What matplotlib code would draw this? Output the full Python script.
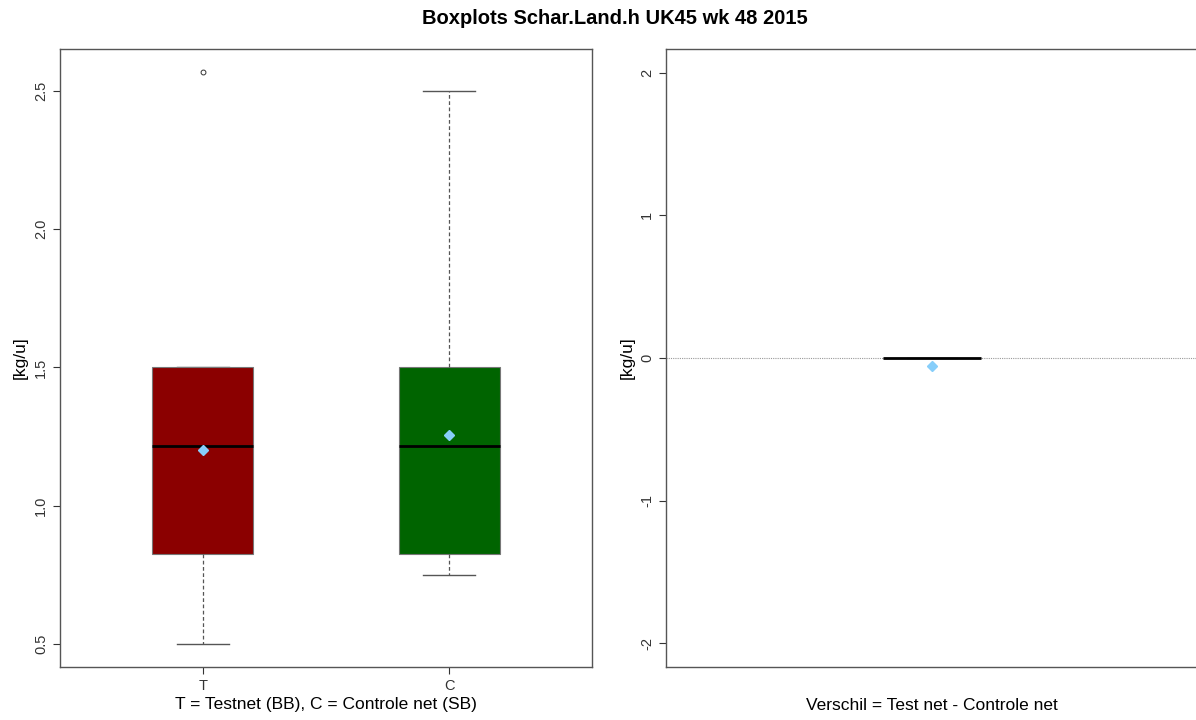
import matplotlib
matplotlib.use("Agg")
import matplotlib.pyplot as plt

plt.rcParams["font.family"] = ["Liberation Sans", "DejaVu Sans"]

# Five-number summaries per net, [kg/u]
groups = ["T", "C"]
q1 = [0.826, 0.826]
median = [1.217, 1.217]
q3 = [1.5, 1.5]
whisker_low = [0.5, 0.75]
whisker_high = [1.5, 2.5]
means = [1.203, 1.254]
outliers = [[2.57], []]
box_colors = ["#8b0000", "#006400"]

# Difference test net - control net
diff_stats = [0.0, 0.0, 0.0, 0.0, 0.0]  # whislo, q1, med, q3, whishi
diff_mean = -0.056

title = "Boxplots Schar.Land.h UK45 wk 48 2015"
xlabel_left = "T = Testnet (BB), C = Controle net (SB)"
xlabel_right = "Verschil = Test net - Controle net"
ylabel = "[kg/u]"

spine_col = "#555555"


def style_axes(ax):
    for s in ax.spines.values():
        s.set_color(spine_col)
        s.set_linewidth(1.0)
    ax.tick_params(axis="both", colors="#333333", labelsize=10.5, length=5, width=0.8)
    for lab in ax.get_yticklabels():
        lab.set_rotation(90)
        lab.set_va("center")


fig = plt.figure(figsize=(11.96, 7.2), dpi=100)
ax1 = fig.add_axes([0.0502, 0.0736, 0.4448, 0.8583])
ax2 = fig.add_axes([0.5569, 0.0736, 0.4448, 0.8583])

stats = []
for i, g in enumerate(groups):
    stats.append(dict(label=g, med=median[i], q1=q1[i], q3=q3[i],
                      whislo=whisker_low[i], whishi=whisker_high[i],
                      mean=means[i], fliers=outliers[i]))

bp = ax1.bxp(stats, positions=[1, 2], widths=0.41, patch_artist=True,
             showmeans=True, showcaps=True,
             boxprops=dict(edgecolor="#777777", linewidth=0.8),
             medianprops=dict(color="black", linewidth=2),
             whiskerprops=dict(color="#555555", linestyle=(0, (3, 2)), linewidth=0.9),
             capprops=dict(color="#555555", linewidth=1.0),
             flierprops=dict(marker="o", markersize=3.5, markerfacecolor="none",
                             markeredgecolor="#333333", markeredgewidth=0.7),
             meanprops=dict(marker="D", markersize=5.5, markerfacecolor="#87cefa",
                            markeredgecolor="#87cefa"))
for patch, c in zip(bp["boxes"], box_colors):
    patch.set_facecolor(c)
# caps are half the box width
for cap in bp["caps"]:
    x0, x1 = cap.get_xdata()
    xm = (x0 + x1) / 2
    cap.set_xdata([xm - 0.105, xm + 0.105])
    cap.set_zorder(1)

ax1.set_xlim(0.42, 2.58)
ax1.set_ylim(0.416, 2.652)
ax1.set_yticks([0.5, 1.0, 1.5, 2.0, 2.5])
ax1.set_yticklabels(["0.5", "1.0", "1.5", "2.0", "2.5"])
ax1.set_xlabel(xlabel_left, fontsize=12.5, labelpad=3)
ax1.set_ylabel(ylabel, fontsize=12.5, labelpad=5)
style_axes(ax1)

# difference panel
ax2.axhline(0, color="#999999", linestyle=(0, (1, 1)), linewidth=0.8, zorder=0)
dstat = [dict(label="", whislo=diff_stats[0], q1=diff_stats[1], med=diff_stats[2],
              q3=diff_stats[3], whishi=diff_stats[4], mean=diff_mean, fliers=[])]
ax2.bxp(dstat, positions=[1], widths=0.2, patch_artist=True, showmeans=True,
        boxprops=dict(facecolor="white", edgecolor="#777777", linewidth=0.8),
        medianprops=dict(color="black", linewidth=2),
        whiskerprops=dict(color="#555555", linestyle="--", linewidth=0.8),
        capprops=dict(color="#555555", linewidth=0.8),
        meanprops=dict(marker="D", markersize=5.5, markerfacecolor="#87cefa",
                       markeredgecolor="#87cefa"))
ax2.set_xlim(0.46, 1.54)
ax2.set_ylim(-2.165, 2.165)
ax2.set_xticks([])
ax2.set_yticks([-2, -1, 0, 1, 2])
ax2.set_yticklabels(["-2", "-1", "0", "1", "2"])
ax2.set_xlabel(xlabel_right, fontsize=12.5, labelpad=22)
ax2.set_ylabel(ylabel, fontsize=12.5, labelpad=4)
style_axes(ax2)

fig.text(0.514, 0.975, title, ha="center", va="center", fontsize=14.5, fontweight="bold")

fig.savefig("out.png", dpi=100)
